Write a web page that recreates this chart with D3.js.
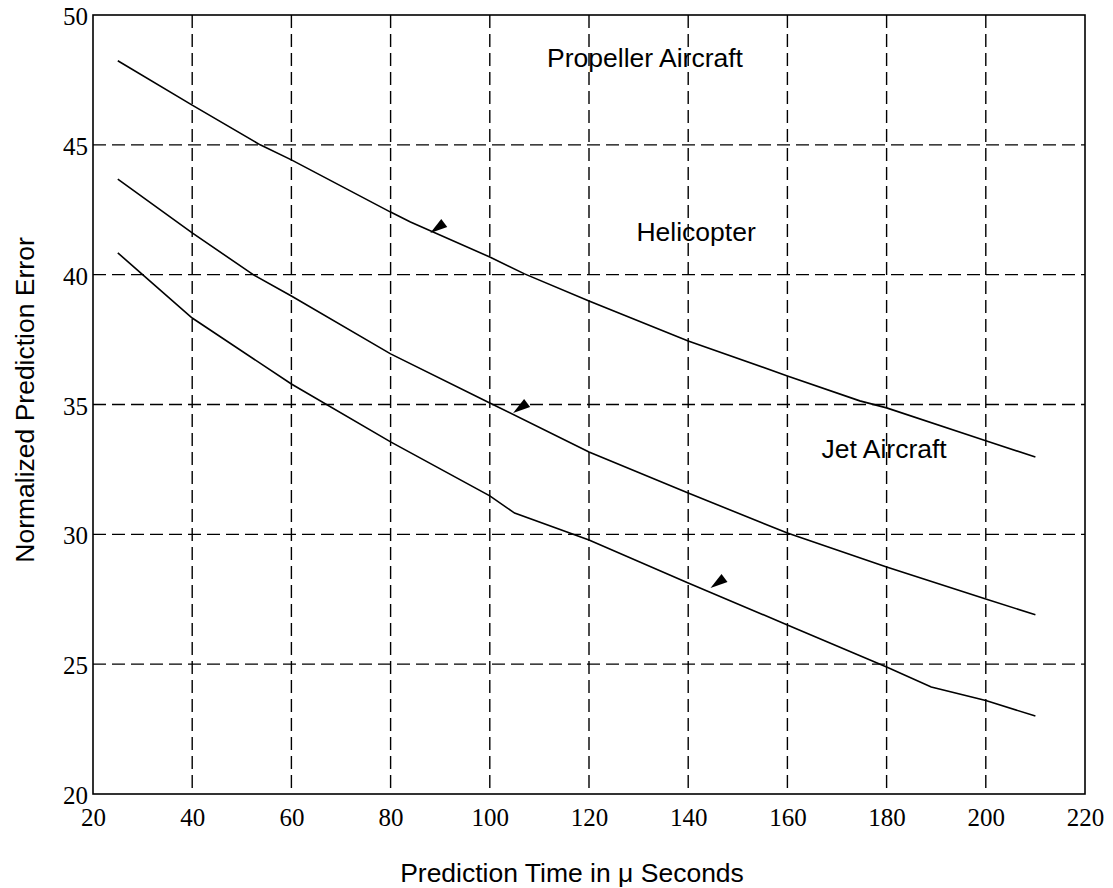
<!DOCTYPE html>
<html><head><meta charset="utf-8">
<script src="https://cdn.jsdelivr.net/npm/d3@7"></script>
<style>html,body{margin:0;padding:0;background:#fff;}</style>
</head><body>
<svg id="c" width="1113" height="888"></svg>
<script>
// ---- data ----
const xTicks = [20,40,60,80,100,120,140,160,180,200,220];
const yTicks = [20,25,30,35,40,45,50];
const propellerX = [25,40,53.7,60,80,84,100,107,120,140,160,174.6,180,200,210];
const propellerY = [48.24,46.53,45.0,44.42,42.41,42.03,40.68,40.03,38.99,37.45,36.10,35.14,34.87,33.60,32.98];
const helicopterX = [25,40,52.3,60,80,100,120,140,160,180,200,210];
const helicopterY = [43.68,41.61,40.0,39.18,36.95,35.06,33.17,31.59,30.05,28.74,27.51,26.9];
const jetX = [25,30,40,60,80,100,105,120,140,160,180,189,200,210];
const jetY = [40.84,40.0,38.33,35.79,33.56,31.48,30.82,29.78,28.13,26.51,24.89,24.12,23.6,23.0];
const labelNames = ["Propeller Aircraft","Helicopter","Jet Aircraft"];
const labelX = [131.3,141.6,179.5];
const labelY = [48.0,41.3,32.94];
const arrowX = [88,104.7,144.5];
const arrowY = [41.6,34.67,27.93];

// ---- layout ----
const svg = d3.select("#c");
const L=93, R=1085, T=15, B=794;
const x = d3.scaleLinear().domain([20,220]).range([L,R]);
const y = d3.scaleLinear().domain([20,50]).range([B,T]);
const serif = "'Liberation Serif','Times New Roman',serif";
const sans = "'Liberation Sans',Arial,sans-serif";

// grid
const g = svg.append("g");
g.selectAll(".vg").data(xTicks.slice(1,-1)).enter().append("line")
  .attr("x1",d=>x(d)).attr("x2",d=>x(d)).attr("y1",T).attr("y2",B)
  .attr("stroke","#000").attr("stroke-width",1.4).attr("stroke-dasharray","13,6");
g.selectAll(".hg").data(yTicks.slice(1,-1)).enter().append("line")
  .attr("x1",L).attr("x2",R).attr("y1",d=>y(d)).attr("y2",d=>y(d))
  .attr("stroke","#000").attr("stroke-width",1.4).attr("stroke-dasharray","13,6");

// frame
svg.append("rect").attr("x",L).attr("y",T).attr("width",R-L).attr("height",B-T)
  .attr("fill","none").attr("stroke","#000").attr("stroke-width",1.6);

// axes tick labels
const xa = svg.append("g").attr("transform",`translate(0,${B})`)
  .call(d3.axisBottom(x).tickValues(xTicks).tickSize(0).tickPadding(14).tickFormat(d3.format("d")));
xa.select(".domain").remove();
xa.selectAll("text").attr("font-family",serif).attr("font-size",25).attr("fill","#000");
const ya = svg.append("g").attr("transform",`translate(${L},0)`)
  .call(d3.axisLeft(y).tickValues(yTicks).tickSize(0).tickPadding(5).tickFormat(d3.format("d")));
ya.select(".domain").remove();
ya.selectAll("text").attr("font-family",serif).attr("font-size",25).attr("fill","#000")
  .attr("dy","0.38em");

// curves
const line = d3.line().x(d=>x(d[0])).y(d=>y(d[1]));
[[propellerX,propellerY],[helicopterX,helicopterY],[jetX,jetY]].forEach(([xs,ys])=>{
  svg.append("path").datum(xs.map((v,i)=>[v,ys[i]])).attr("d",line)
    .attr("fill","none").attr("stroke","#000").attr("stroke-width",1.6);
});

// arrowheads
arrowX.forEach((ax,i)=>{
  const px=x(ax), py=y(arrowY[i]);
  svg.append("path").attr("d",`M${px},${py} L${px+11},${py-14} L${px+17},${py-6} Z`).attr("fill","#000");
});

// series labels
labelNames.forEach((t,i)=>{
  svg.append("text").attr("x",x(labelX[i])).attr("y",y(labelY[i])).attr("text-anchor","middle")
    .attr("font-family",sans).attr("font-size",26.5).attr("fill","#000").text(t);
});

// axis titles
svg.append("text").attr("x",572).attr("y",882).attr("text-anchor","middle")
  .attr("font-family",sans).attr("font-size",26.5).attr("fill","#000").text("Prediction Time in μ Seconds");
svg.append("text").attr("transform","translate(34,400) rotate(-90)").attr("text-anchor","middle")
  .attr("font-family",sans).attr("font-size",26.5).attr("fill","#000").text("Normalized Prediction Error");
</script>
</body></html>
